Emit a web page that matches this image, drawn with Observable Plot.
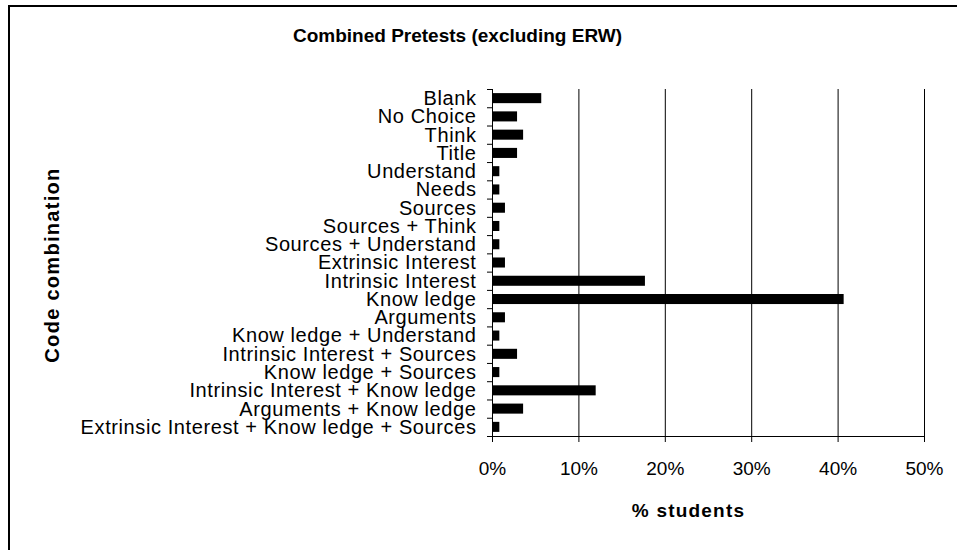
<!DOCTYPE html>
<html>
<head>
<meta charset="utf-8">
<script src="https://cdn.jsdelivr.net/npm/d3@7"></script>
<script src="https://cdn.jsdelivr.net/npm/@observablehq/plot@0.6"></script>
<style>
  html, body { margin: 0; padding: 0; background: #fff; }
  #wrap { position: relative; width: 957px; height: 550px; overflow: hidden; background: #fff; }
  #border { position: absolute; left: 8px; top: 5px; width: 980px; height: 580px;
            border-top: 2px solid #000; border-left: 2px solid #000; pointer-events: none; }
  #chart svg { display: block; }
</style>
</head>
<body>
<div id="wrap"><div id="chart"></div><div id="border"></div></div>
<script>
const title = "Combined Pretests (excluding ERW)";
const yLabel = "Code combination";
const xLabel = "% students";
const categories = [
  "Blank", "No Choice", "Think", "Title", "Understand", "Needs", "Sources",
  "Sources + Think", "Sources + Understand", "Extrinsic Interest",
  "Intrinsic Interest", "Know ledge", "Arguments", "Know ledge + Understand",
  "Intrinsic Interest + Sources", "Know ledge + Sources",
  "Intrinsic Interest + Know ledge", "Arguments + Know ledge",
  "Extrinsic Interest + Know ledge + Sources"
];
const values = [5.7, 2.9, 3.6, 2.9, 0.85, 0.85, 1.5, 0.85, 0.85, 1.5, 17.7, 40.7, 1.5, 0.85, 2.9, 0.85, 12.0, 3.6, 0.85];
const xTicks = [0, 10, 20, 30, 40, 50];
const gridTicks = [10, 20, 30, 40, 50];

const rows = categories.map((c, i) => ({ c, v: values[i], i }));
const half = 0.275; // half bar thickness in band units

const chart = Plot.plot({
  width: 957,
  height: 550,
  marginLeft: 492,
  marginRight: 33,
  marginTop: 89,
  marginBottom: 114,
  style: { fontFamily: "'Liberation Sans', Arial, sans-serif", fontSize: "20px", color: "#000", background: "transparent" },
  x: { domain: [0, 50] },
  y: { domain: [0, categories.length], reverse: true },
  marks: [
    Plot.ruleX(gridTicks, { stroke: "#000", strokeWidth: 1 }),
    Plot.rectX(rows, { x1: 0, x2: "v", y1: d => d.i + 0.5 - half, y2: d => d.i + 0.5 + half, fill: "#000" }),
    Plot.ruleX([0], { stroke: "#000" }),
    Plot.ruleY([categories.length], { stroke: "#000" }),
    Plot.axisY({ ticks: d3.range(categories.length + 1), tickSize: 5, tickFormat: () => "", label: null }),
    Plot.axisY({ ticks: categories.map((c, i) => i + 0.5), tickSize: 0, tickPadding: 16,
                 tickFormat: d => categories[Math.floor(d)], fontSize: 20, label: null }),
    Plot.axisX({ ticks: xTicks, tickSize: 6, tickPadding: 19, tickFormat: d => d + "%", fontSize: 19, label: null }),
    Plot.text([title], { text: d => d, frameAnchor: "top", lineAnchor: "middle", textAnchor: "middle", dx: -251, dy: -54,
                         fontWeight: "bold", fontSize: 19 }),
    Plot.text([yLabel], { text: d => d, frameAnchor: "left", lineAnchor: "middle", textAnchor: "middle", rotate: -90, dx: -440, dy: 2,
                          fontWeight: "bold", fontSize: 20 }),
    Plot.text([xLabel], { text: d => d, frameAnchor: "bottom", lineAnchor: "middle", textAnchor: "middle", dx: -20, dy: 74,
                          fontWeight: "bold", fontSize: 19 })
  ]
});
const texts = d3.select(chart).selectAll("text");
texts.filter(function () { return categories.includes(this.textContent); }).style("letter-spacing", "0.6px");
texts.filter(function () { return this.textContent === yLabel; }).style("letter-spacing", "1.3px");
texts.filter(function () { return this.textContent === xLabel; }).style("letter-spacing", "1.2px");
document.getElementById("chart").appendChild(chart);
</script>
</body>
</html>
